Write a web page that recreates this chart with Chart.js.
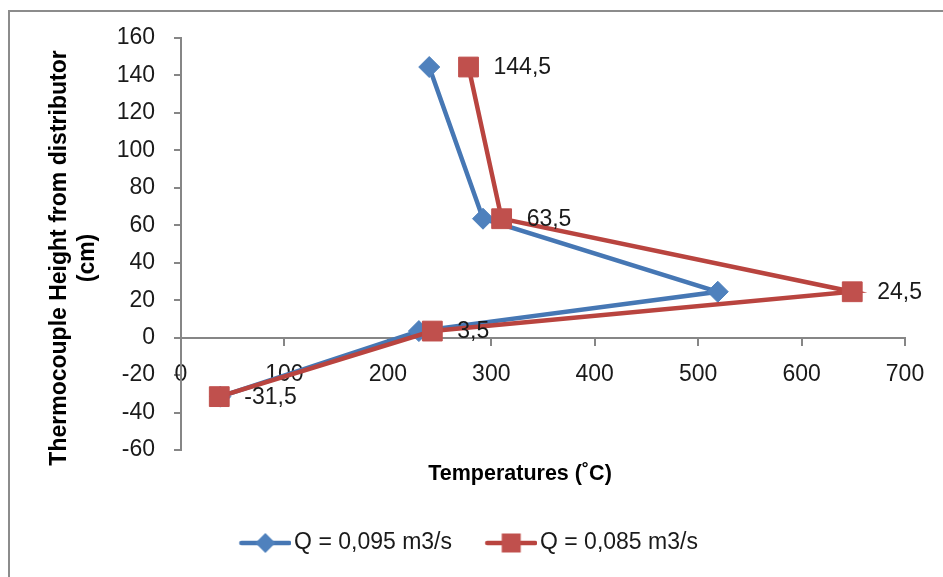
<!DOCTYPE html>
<html>
<head>
<meta charset="utf-8">
<script src="https://cdn.jsdelivr.net/npm/chart.js@4/dist/chart.umd.min.js"></script>
<style>
  html, body { margin: 0; padding: 0; background: #ffffff; }
  #wrap { position: relative; width: 943px; height: 577px; }
</style>
</head>
<body>
<div id="wrap"><canvas id="chart" width="943" height="577"></canvas></div>
<script>
// Thermocouple height (cm) above the distributor
const heights = [144.5, 63.5, 24.5, 3.5, -31.5];
// Measured temperatures (°C) for each air flow rate
const tempQ095 = [240, 292, 519, 230, 38];
const tempQ085 = [278, 310, 649, 243, 37];
const seriesNames = ['Q = 0,095 m3/s', 'Q = 0,085 m3/s'];
const xTickRange = [0, 700, 100];
const yTickRange = [-60, 160, 20];
const xTitle = 'Temperatures (˚C)';
const yTitle = ['Thermocouple Height from distributor', '(cm)'];

const BLUE = '#4F81BD', BLUE_LINE = '#4677B4';
const RED = '#C0504D', RED_LINE = '#B9443F';
const AXIS = '#868686';
const FONT = "'Liberation Sans', Arial, sans-serif";

const toPoints = (xs) => xs.map((t, i) => ({ x: t, y: heights[i] }));
const fmt = (v) => String(v).replace('.', ',');

// Legend glyphs: a short line with the series marker in its middle
function legendGlyph(kind) {
  const c = document.createElement('canvas');
  c.width = 84; c.height = 24;
  const g = c.getContext('2d');
  const x0 = 84 - 52, cx = 84 - 26, cy = 12;
  g.strokeStyle = kind === 'diamond' ? BLUE_LINE : RED_LINE;
  g.lineWidth = 4.5; g.lineCap = 'round';
  g.beginPath(); g.moveTo(x0 + 2, cy); g.lineTo(84 - 2, cy); g.stroke();
  g.fillStyle = kind === 'diamond' ? BLUE : RED;
  g.beginPath();
  if (kind === 'diamond') {
    g.moveTo(cx, cy - 10); g.lineTo(cx + 10, cy); g.lineTo(cx, cy + 10); g.lineTo(cx - 10, cy);
  } else {
    g.rect(cx - 9.5, cy - 9.5, 19, 19);
  }
  g.closePath(); g.fill();
  return c;
}
const glyphs = [legendGlyph('diamond'), legendGlyph('square')];

// Outer frame of the chart
const framePlugin = {
  id: 'frame',
  beforeDraw(chart) {
    const ctx = chart.ctx;
    ctx.save();
    ctx.strokeStyle = '#8c8c8c';
    ctx.lineWidth = 2;
    ctx.beginPath();
    ctx.moveTo(9, 577); ctx.lineTo(9, 11); ctx.lineTo(943, 11);
    ctx.stroke();
    ctx.restore();
  }
};

// Value labels to the right of the 0,085 m3/s markers
const valueLabels = {
  id: 'valueLabels',
  afterDatasetsDraw(chart) {
    const ctx = chart.ctx;
    const meta = chart.getDatasetMeta(1);
    const data = chart.data.datasets[1].data;
    ctx.save();
    ctx.font = "23px " + FONT;
    ctx.fillStyle = '#1a1a1a';
    ctx.textAlign = 'left';
    ctx.textBaseline = 'middle';
    meta.data.forEach((pt, i) => {
      ctx.fillText(fmt(data[i].y), pt.x + 25, pt.y + 1);
    });
    ctx.restore();
  }
};

// Nudge the title-only axes after layout
const nudge = {
  id: 'nudge',
  afterLayout(chart) {
    const xt = chart.scales.xT, yt = chart.scales.yT;
    xt.left -= 23; xt.right -= 23;
    yt.top += 14; yt.bottom += 14;
  }
};

new Chart(document.getElementById('chart'), {
  type: 'scatter',
  data: {
    datasets: [
      {
        label: seriesNames[0],
        data: toPoints(tempQ095),
        showLine: true,
        borderColor: BLUE_LINE,
        borderWidth: 4.5,
        backgroundColor: BLUE,
        pointStyle: 'rectRot',
        pointRadius: 10.5,
        pointHoverRadius: 10.5,
        pointBackgroundColor: BLUE,
        pointBorderColor: BLUE,
        pointBorderWidth: 1,
        order: 1
      },
      {
        label: seriesNames[1],
        data: toPoints(tempQ085),
        showLine: true,
        borderColor: RED_LINE,
        borderWidth: 4.5,
        backgroundColor: RED,
        pointStyle: 'rect',
        pointRadius: 14,
        pointHoverRadius: 14,
        pointBackgroundColor: RED,
        pointBorderColor: RED,
        pointBorderWidth: 1,
        order: 0
      }
    ]
  },
  options: {
    responsive: false,
    animation: false,
    events: [],
    layout: { padding: { left: 9, top: 38, right: 38, bottom: 12.5 } },
    plugins: {
      tooltip: { enabled: false },
      legend: {
        position: 'bottom',
        labels: {
          usePointStyle: true,
          pointStyleWidth: 66.5,
          padding: 10,
          color: '#1a1a1a',
          font: { family: FONT, size: 23 },
          generateLabels(chart) {
            return chart.data.datasets.map((ds, i) => ({
              text: ds.label,
              pointStyle: glyphs[i],
              datasetIndex: i,
              fontColor: '#1a1a1a',
              fillStyle: 'transparent',
              strokeStyle: 'transparent',
              lineWidth: 0,
              hidden: false
            }));
          }
        }
      }
    },
    scales: {
      x: {
        type: 'linear',
        axis: 'x',
        position: { y: 0 },
        min: xTickRange[0],
        max: xTickRange[1],
        ticks: {
          stepSize: xTickRange[2],
          color: '#1a1a1a',
          padding: 16,
          font: { family: FONT, size: 23 },
          maxRotation: 0
        },
        grid: { drawOnChartArea: false, drawTicks: true, tickLength: 7, color: AXIS, lineWidth: 2 },
        border: { color: AXIS, width: 2 }
      },
      y: {
        type: 'linear',
        axis: 'y',
        position: 'left',
        weight: 0,
        min: yTickRange[0],
        max: yTickRange[1],
        ticks: {
          stepSize: yTickRange[2],
          color: '#1a1a1a',
          padding: 19,
          font: { family: FONT, size: 23 }
        },
        grid: { drawOnChartArea: false, drawTicks: true, tickLength: 7, color: AXIS, lineWidth: 2 },
        border: { color: AXIS, width: 2 },
        afterFit(scale) { scale.width = 82; }
      },
      yT: {
        type: 'linear',
        axis: 'y',
        position: 'left',
        weight: 5,
        min: 0, max: 1,
        ticks: { display: false },
        grid: { display: false, drawTicks: false },
        border: { display: false },
        title: {
          display: true,
          text: yTitle,
          color: '#000000',
          font: { family: FONT, size: 23, weight: 'bold', lineHeight: '28px' },
          padding: { top: 37, bottom: 0 }
        },
        afterFit(scale) { scale.width = 90; }
      },
      xT: {
        type: 'linear',
        axis: 'x',
        position: 'bottom',
        weight: 0,
        min: 0, max: 1,
        ticks: { display: false },
        grid: { display: false, drawTicks: false },
        border: { display: false },
        title: {
          display: true,
          text: xTitle,
          color: '#000000',
          font: { family: FONT, size: 21.5, weight: 'bold', lineHeight: 1.2 },
          padding: { top: 0, bottom: 35 }
        },
        afterFit(scale) { scale.height = 71.5; }
      }
    }
  },
  plugins: [framePlugin, valueLabels, nudge]
});
</script>
</body>
</html>
